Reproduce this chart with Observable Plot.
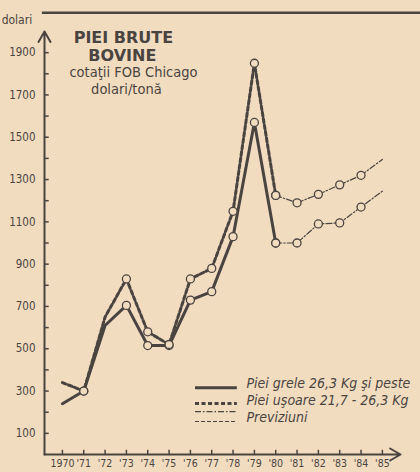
<!DOCTYPE html>
<html><head><meta charset="utf-8">
<script src="https://cdn.jsdelivr.net/npm/d3@7"></script>
<script src="https://cdn.jsdelivr.net/npm/@observablehq/plot@0.6"></script>
<style>
html,body{margin:0;padding:0;background:#f2dcc0;}
#chart svg{display:block;}
#chart svg text{font-stretch:condensed;}
#chart svg g[font-weight="bold"] text{font-stretch:normal;}
</style></head><body><div id="chart"></div>
<script>
// ---- data ----
const years = [1970, 1971, 1972, 1973, 1974, 1975, 1976, 1977, 1978, 1979, 1980];
const grele = [240, 300, 610, 705, 515, 515, 730, 770, 1030, 1570, 1000];
const usoare = [340, 300, 650, 830, 580, 520, 830, 880, 1150, 1850, 1225];
const forecastYears = [1980, 1981, 1982, 1983, 1984, 1985];
const greleForecast = [1000, 1000, 1090, 1095, 1170, 1245];
const usoareForecast = [1225, 1190, 1230, 1275, 1320, 1395];
const markedYears = [1971, 1973, 1974, 1975, 1976, 1977, 1978, 1979, 1980, 1981, 1982, 1983, 1984];
const yTickLabels = [100, 300, 500, 700, 900, 1100, 1300, 1500, 1700, 1900];
const yMinorTicks = d3.range(100, 2000, 100);
const xTickYears = d3.range(1970, 1986);
const xTickFormat = y => y === 1970 ? "1970" : "'" + String(y).slice(2);
const titleLines = ["PIEI BRUTE", "BOVINE"];
const subtitleLines = ["cotaţii FOB Chicago", "dolari/tonă"];
const yUnit = "dolari";
const legendLabels = ["Piei grele 26,3 Kg şi peste", "Piei uşoare 21,7 - 26,3 Kg", "Previziuni"];

// ---- build tables ----
const tbl = (xs, vs, series) => xs.map((x, i) => ({year: x, value: vs[i], series}));
const greleT = tbl(years, grele, "grele");
const usoareT = tbl(years, usoare, "usoare");
const greleF = tbl(forecastYears, greleForecast, "grele");
const usoareF = tbl(forecastYears, usoareForecast, "usoare");
const all = [...greleT, ...usoareT, ...greleF, ...usoareF];
const dots = all.filter(d => markedYears.includes(d.year));

const ink = "#4a4440";
const bg = "#f2dcc0";
const cond = "'DejaVu Sans', sans-serif";
const xMin = 1969.16, xMax = 1985.85;

const chart = Plot.plot({
  width: 420, height: 472,
  marginLeft: 44, marginRight: 20, marginTop: 31, marginBottom: 18,
  x: {domain: [xMin, xMax]},
  y: {domain: [0, 2000]},
  style: {background: "transparent", color: ink, fontFamily: cond},
  marks: [
    // frame top line
    Plot.ruleY([2089], {x1: xMin - 0.1, x2: 1988, stroke: ink, strokeWidth: 2.5}),
    // axes
    Plot.arrow([0], {x1: xMin, y1: 0, x2: xMin, y2: 2000, stroke: ink, strokeWidth: 2, headLength: 9, bend: 0}),
    Plot.arrow([0], {x1: xMin, y1: 0, x2: xMax, y2: 0, stroke: ink, strokeWidth: 2, headLength: 9, bend: 0}),
    Plot.ruleY(yMinorTicks, {x1: xMin, x2: xMin + 0.22, stroke: ink, strokeWidth: 1.5}),
    Plot.ruleX(xTickYears, {y1: 0, y2: 20, stroke: ink, strokeWidth: 1.5}),
    Plot.axisY(yTickLabels, {tickSize: 0, tickPadding: 9, fontSize: 11.5, fill: ink, label: null, tickFormat: d => String(d)}),
    Plot.axisX(xTickYears, {tickSize: 0, tickPadding: 5, fontSize: 10.5, fill: ink, tickFormat: xTickFormat, label: null}),
    Plot.text([yUnit], {x: 1967.15, y: 2052, text: d => d, textAnchor: "start", fontSize: 12, fill: ink}),
    // title
    Plot.text(titleLines, {x: [1972.86, 1972.81], y: [1972, 1887], text: d => d, fontSize: 16, fontWeight: "bold", fill: ink}),
    Plot.text(subtitleLines, {x: [1973.33, 1973.0], y: [1806, 1726], text: d => d, fontSize: 14.5, fill: ink}),
    // forecast lines
    Plot.line(greleF, {x: "year", y: "value", stroke: ink, strokeWidth: 1.2, strokeDasharray: "6,2,1.5,2"}),
    Plot.line(usoareF, {x: "year", y: "value", stroke: ink, strokeWidth: 1.2, strokeDasharray: "6,2,1.5,2"}),
    // main lines
    Plot.line(usoareT, {x: "year", y: "value", stroke: ink, strokeWidth: 3, strokeDasharray: "4,2.5"}),
    Plot.line(greleT, {x: "year", y: "value", stroke: ink, strokeWidth: 3}),
    Plot.dot(dots, {x: "year", y: "value", r: 4, fill: bg, stroke: ink, strokeWidth: 1.3}),
    // legend
    Plot.ruleY([316], {x1: 1976.24, x2: 1978.2, stroke: ink, strokeWidth: 3}),
    Plot.ruleY([241], {x1: 1976.24, x2: 1978.2, stroke: ink, strokeWidth: 3, strokeDasharray: "4,2.5"}),
    Plot.ruleY([203], {x1: 1976.24, x2: 1978.2, stroke: ink, strokeWidth: 1.2, strokeDasharray: "6,2,1.5,2"}),
    Plot.ruleY([156], {x1: 1976.24, x2: 1978.2, stroke: ink, strokeWidth: 1.2, strokeDasharray: "4,2"}),
    Plot.text(legendLabels, {x: 1978.63, y: [336, 255, 175], text: d => d, textAnchor: "start", fontSize: 14, fontStyle: "italic", fill: ink})
  ]
});
document.getElementById("chart").appendChild(chart);
</script></body></html>
